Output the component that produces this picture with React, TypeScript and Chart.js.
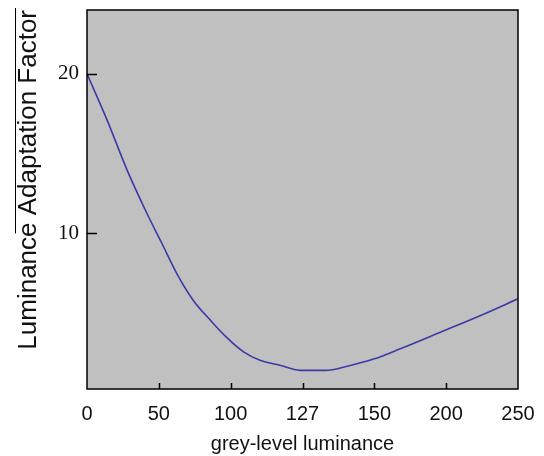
import React, { useEffect, useRef } from "react";
import { Chart, registerables } from "chart.js";

Chart.register(...registerables);

// Axis tick labels (the x axis is ordinal: ticks evenly spaced)
const xTickValues = [0, 50, 100, 127, 150, 200, 250];
const yTickValues = [10, 20];

// Curve: grey level and adaptation factor
const greyLevels = [0, 14, 28, 42, 52, 63, 74, 86, 97, 105, 111, 118.5, 126, 134.5, 141, 150, 168, 196, 224, 250];
const factors = [20.0, 17.1, 13.95, 11.2, 9.4, 7.4, 5.8, 4.55, 3.5, 2.56, 2.05, 1.74, 1.42, 1.42, 1.66, 2.14, 2.77, 3.81, 4.86, 5.9];

// Map a grey level onto the ordinal axis position (ticks evenly spaced)
function toAxis(g: number): number {
  for (let i = 0; i < xTickValues.length - 1; i++) {
    const a = xTickValues[i];
    const b = xTickValues[i + 1];
    if (g <= b) return i + (g - a) / (b - a);
  }
  return xTickValues.length - 1;
}

const inwardTicks = {
  id: "inwardTicks",
  afterDraw(chart: any) {
    const { ctx, chartArea, scales } = chart;
    ctx.save();
    ctx.strokeStyle = "#000";
    ctx.lineWidth = 1.5;
    ctx.beginPath();
    for (let i = 1; i < xTickValues.length - 1; i++) {
      const px = Math.round(scales.x.getPixelForValue(i)) + 0.5;
      ctx.moveTo(px, chartArea.bottom);
      ctx.lineTo(px, chartArea.bottom - 6);
    }
    for (const v of yTickValues) {
      const py = Math.round(scales.y.getPixelForValue(v)) + 0.5;
      ctx.moveTo(chartArea.left, py);
      ctx.lineTo(chartArea.left + 10, py);
    }
    ctx.stroke();
    ctx.lineWidth = 1.5;
    ctx.strokeRect(chartArea.left, chartArea.top, chartArea.right - chartArea.left, chartArea.bottom - chartArea.top);
    // thin rule beside the y-axis title, as in the source image
    ctx.lineWidth = 1;
    ctx.beginPath();
    ctx.moveTo(15.5, chartArea.top - 2);
    ctx.lineTo(15.5, scales.y.getPixelForValue(10));
    ctx.stroke();
    ctx.restore();
  },
};

const plotBackground = {
  id: "plotBackground",
  beforeDraw(chart: any) {
    const { ctx, chartArea } = chart;
    ctx.save();
    ctx.fillStyle = "#c0c0c0";
    ctx.fillRect(chartArea.left, chartArea.top, chartArea.right - chartArea.left, chartArea.bottom - chartArea.top);
    ctx.restore();
  },
};

export default function App() {
  const ref = useRef<HTMLCanvasElement>(null);
  useEffect(() => {
    document.body.style.margin = "0";
    const canvas = ref.current!;
    const chart = new Chart(canvas, {
      type: "line",
      data: {
        datasets: [
          {
            data: greyLevels.map((g, i) => ({ x: toAxis(g), y: factors[i] })),
            borderColor: "#3a3aa8",
            borderWidth: 1.6,
            pointRadius: 0,
            cubicInterpolationMode: "monotone",
            fill: false,
          },
        ],
      },
      options: {
        animation: false,
        responsive: false,
        maintainAspectRatio: false,
        layout: { padding: { top: 10, right: 26, left: 0, bottom: 0 } },
        plugins: { legend: { display: false }, tooltip: { enabled: false } },
        scales: {
          x: {
            type: "linear",
            min: 0,
            max: xTickValues.length - 1,
            grid: { display: false, drawTicks: false },
            border: { display: false },
            afterBuildTicks: (s: any) => {
              s.ticks = xTickValues.map((_, i) => ({ value: i }));
            },
            ticks: {
              autoSkip: false,
              maxRotation: 0,
              padding: 13,
              color: "#111",
              font: { family: "'Liberation Sans', Arial, sans-serif", size: 20 },
              callback: (v: any) => String(xTickValues[Math.round(Number(v))]),
            },
            title: {
              display: true,
              text: "grey-level luminance",
              color: "#111",
              padding: { top: 2, bottom: 0 },
              font: { family: "'Liberation Sans', Arial, sans-serif", size: 20 },
            },
            afterFit: (s: any) => {
              s.height = 67;
              s.paddingLeft = 0;
              s.paddingRight = 0;
            },
          },
          y: {
            min: 0.25,
            max: 24,
            grid: { display: false, drawTicks: false },
            border: { display: false },
            afterBuildTicks: (s: any) => {
              s.ticks = yTickValues.map((v) => ({ value: v }));
            },
            ticks: {
              padding: 8,
              color: "#111",
              font: { family: "'Liberation Serif', 'Times New Roman', serif", size: 21 },
            },
            title: {
              display: true,
              text: "Luminance Adaptation Factor",
              align: "end",
              color: "#111",
              padding: { top: 13, bottom: 0 },
              font: { family: "'Liberation Sans', Arial, sans-serif", size: 26 },
            },
            afterFit: (s: any) => {
              s.width = 87;
              s.paddingTop = 0;
              s.paddingBottom = 0;
            },
          },
        },
      },
      plugins: [plotBackground, inwardTicks],
    });
    return () => chart.destroy();
  }, []);
  return (
    <div style={{ width: 544, height: 456 }}>
      <canvas ref={ref} width={544} height={456} style={{ display: "block" }} />
    </div>
  );
}
